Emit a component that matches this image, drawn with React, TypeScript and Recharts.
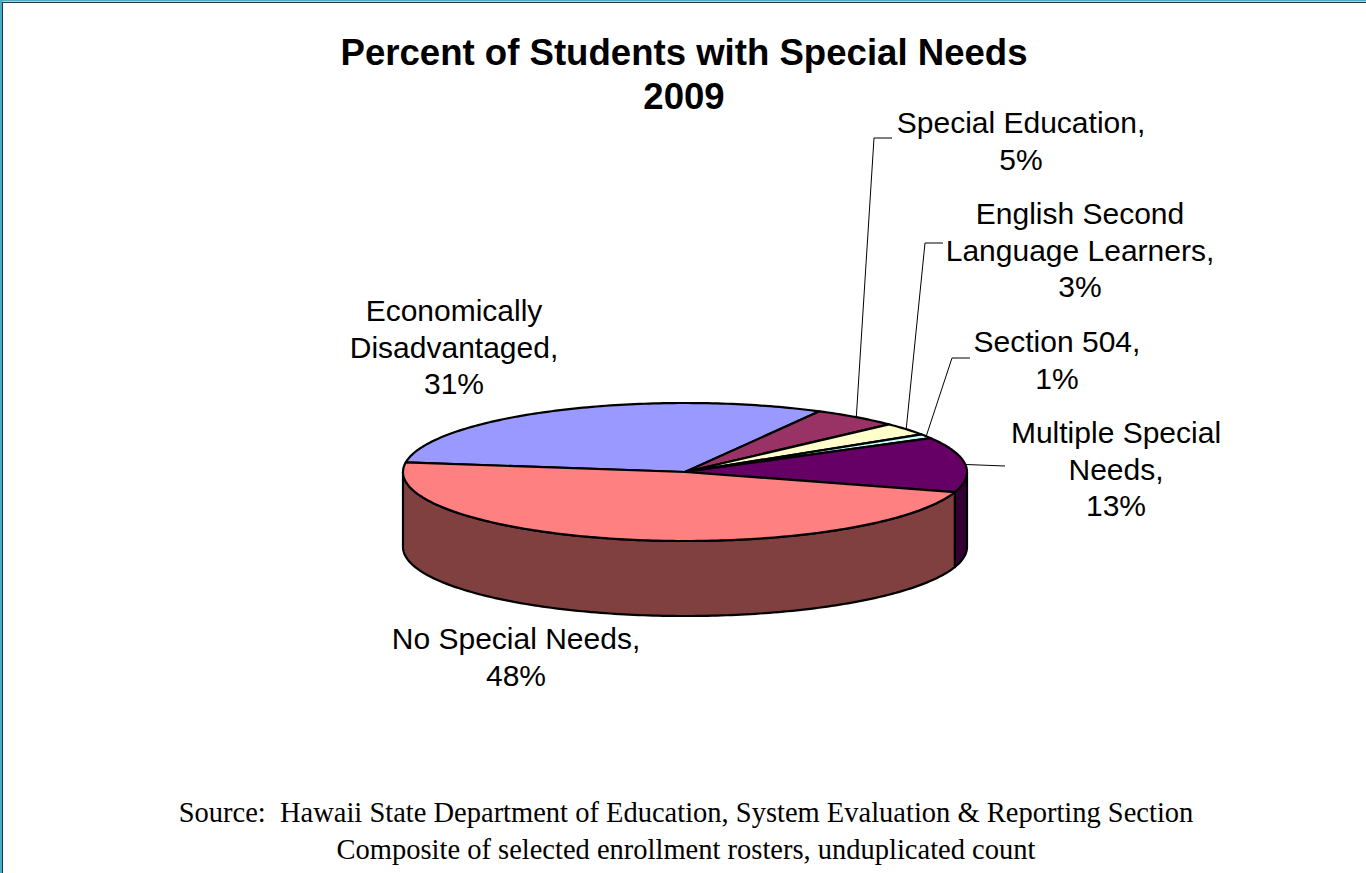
import React from "react";
import { PieChart, Pie } from "recharts";

// ---- data ----
const categories = [
  "Economically Disadvantaged",
  "Special Education",
  "English Second Language Learners",
  "Section 504",
  "Multiple Special Needs",
  "No Special Needs",
];
const percents = [31, 5, 3, 1, 13, 48];
const labelNameLines = [
  ["Economically", "Disadvantaged"],
  ["Special Education"],
  ["English Second", "Language Learners"],
  ["Section 504"],
  ["Multiple Special", "Needs"],
  ["No Special Needs"],
];
const titleLines = ["Percent of Students with Special Needs", "2009"];
const sourceLines = [
  "Source:  Hawaii State Department of Education, System Evaluation & Reporting Section",
  "Composite of selected enrollment rosters, unduplicated count",
];

// ---- styles / layout ----
const topColors = ["#9999FF", "#993366", "#FFFFCC", "#CCFFFF", "#660066", "#FF8080"];
const sideColors = ["#4D4D80", "#4D1A33", "#808066", "#668080", "#330033", "#804040"];

const W = 1366;
const H = 873;
const CX = 685;
const CY = 472;
const RX = 282;
const RY = 69;
const DEPTH = 75;
const START = 172;
const LINE_H = 36.5;

type Pt = [number, number];
const labelLayout: { x: number; y: number; leader: Pt[] | null }[] = [
  { x: 454, y: 321, leader: null },
  { x: 1021, y: 133, leader: [[874, 138], [892, 138]] },
  { x: 1080, y: 224, leader: [[925, 243], [943, 243]] },
  { x: 1057, y: 352, leader: [[952, 358], [970, 358]] },
  { x: 1116, y: 443, leader: [[1005, 466]] },
  { x: 516, y: 649, leader: null },
];

const data = categories.map((name, i) => ({ name, value: percents[i] }));

const RAD = Math.PI / 180;
const ep = (a: number, dy = 0): Pt => [CX + RX * Math.cos(a * RAD), CY - RY * Math.sin(a * RAD) + dy];

function arcPts(from: number, to: number, dy = 0): Pt[] {
  const n = Math.max(2, Math.ceil(Math.abs(to - from) / 1) + 1);
  const pts: Pt[] = [];
  for (let k = 0; k < n; k++) {
    const a = from + ((to - from) * k) / (n - 1);
    pts.push(ep(a, dy));
  }
  return pts;
}

const toPath = (pts: Pt[]) =>
  pts.map((p, k) => `${k === 0 ? "M" : "L"}${p[0].toFixed(2)},${p[1].toFixed(2)}`).join(" ") + " Z";

function angles(p: any): [number, number] {
  const s = Number(p.startAngle);
  const e = Number(p.endAngle);
  return [Math.max(s, e), Math.min(s, e)];
}

const renderWall = (p: any) => {
  const [hi0, lo0] = angles(p);
  const lo = Math.max(lo0, -180);
  const hi = Math.min(hi0, 0);
  if (!(lo < hi)) return <g />;
  const pts = [...arcPts(hi, lo), ...arcPts(lo, hi, DEPTH)];
  return (
    <path
      d={toPath(pts)}
      fill={sideColors[p.index]}
      stroke="#000"
      strokeWidth={2.2}
      strokeLinejoin="round"
    />
  );
};

const renderTop = (p: any) => {
  const [hi, lo] = angles(p);
  const pts: Pt[] = [[CX, CY], ...arcPts(hi, lo)];
  return (
    <path
      d={toPath(pts)}
      fill={topColors[p.index]}
      stroke="#000"
      strokeWidth={2.2}
      strokeLinejoin="round"
    />
  );
};

const renderLabel = (p: any) => {
  const i = p.index;
  const [hi, lo] = angles(p);
  const mid = (hi + lo) / 2;
  const lay = labelLayout[i];
  const names = labelNameLines[i];
  const lines = [...names.slice(0, -1), names[names.length - 1] + ",", `${percents[i]}%`];
  let leader = null;
  if (lay.leader) {
    const pts: Pt[] = [ep(mid), ...lay.leader];
    leader = (
      <polyline
        points={pts.map((q) => `${q[0]},${q[1]}`).join(" ")}
        fill="none"
        stroke="#000"
        strokeWidth={1}
      />
    );
  }
  return (
    <g>
      {leader}
      <text
        textAnchor="middle"
        fontFamily="'Liberation Sans', Arial, sans-serif"
        fontSize={30}
        fill="#000"
      >
        {lines.map((t, k) => (
          <tspan key={k} x={lay.x} y={lay.y + k * LINE_H}>
            {t}
          </tspan>
        ))}
      </text>
    </g>
  );
};

export default function App() {
  return (
    <div style={{ position: "relative", width: W, height: H, background: "#fff", overflow: "hidden" }}>
      <style>{`body{margin:0;}`}</style>
      <div style={{ position: "absolute", left: 0, top: 0 }}>
        <PieChart width={W} height={H} margin={{ top: 0, right: 0, bottom: 0, left: 0 }}>
          <Pie
            data={data}
            dataKey="value"
            nameKey="name"
            cx={CX}
            cy={CY}
            outerRadius={RX}
            startAngle={START}
            endAngle={START - 360}
            fill="transparent"
            stroke="none"
            label={renderWall}
            labelLine={false}
            isAnimationActive={false}
          />
          <Pie
            data={data}
            dataKey="value"
            nameKey="name"
            cx={CX}
            cy={CY}
            outerRadius={RX}
            startAngle={START}
            endAngle={START - 360}
            fill="transparent"
            stroke="none"
            label={renderTop}
            labelLine={false}
            isAnimationActive={false}
          />
          <Pie
            data={data}
            dataKey="value"
            nameKey="name"
            cx={CX}
            cy={CY}
            outerRadius={RX}
            startAngle={START}
            endAngle={START - 360}
            fill="transparent"
            stroke="none"
            label={renderLabel}
            labelLine={false}
            isAnimationActive={false}
          />
        </PieChart>
      </div>
      <svg
        width={W}
        height={H}
        style={{ position: "absolute", left: 0, top: 0, pointerEvents: "none" }}
      >
        <rect x={0} y={0} width={2.5} height={H} fill="#4BACC6" />
        <rect x={0} y={0} width={W} height={1.5} fill="#4BACC6" />
        <line x1={2.5} y1={2} x2={2.5} y2={H} stroke="#1F3A44" strokeWidth={1} />
        <line x1={2} y1={2.5} x2={W} y2={2.5} stroke="#1F3A44" strokeWidth={1} />
        <text
          textAnchor="middle"
          fontFamily="'Liberation Sans', Arial, sans-serif"
          fontWeight="bold"
          fontSize={36.6}
          fill="#000"
        >
          <tspan x={684} y={65}>{titleLines[0]}</tspan>
          <tspan x={684} y={109}>{titleLines[1]}</tspan>
        </text>
        <text
          textAnchor="middle"
          fontFamily="'Liberation Serif', 'Times New Roman', serif"
          fontSize={28.5}
          fill="#000"
          style={{ whiteSpace: "pre" }}
        >
          <tspan x={686} y={822}>{sourceLines[0]}</tspan>
          <tspan x={686} y={859}>{sourceLines[1]}</tspan>
        </text>
      </svg>
    </div>
  );
}
